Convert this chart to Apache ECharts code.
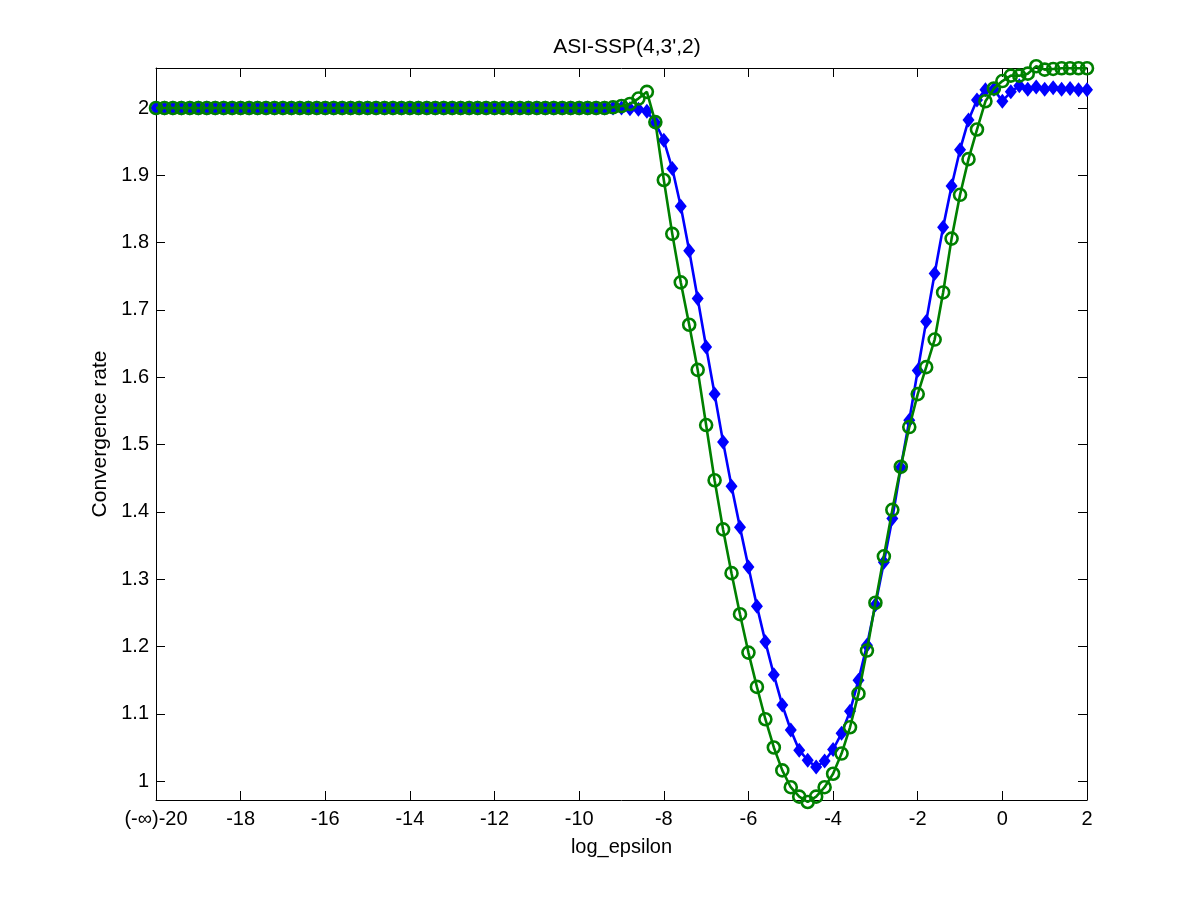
<!DOCTYPE html>
<html>
<head>
<meta charset="utf-8">
<script src="https://cdn.jsdelivr.net/npm/echarts@6/dist/echarts.min.js"></script>
<style>
html, body { margin: 0; padding: 0; background: #fff; }
#main { width: 1200px; height: 900px; }
</style>
</head>
<body>
<div id="main"></div>
<script>
// log_epsilon sample points (step 0.2)
var xs = [
  -20, -19.8, -19.6, -19.4, -19.2, -19, -18.8, -18.6, -18.4, -18.2,
  -18, -17.8, -17.6, -17.4, -17.2, -17, -16.8, -16.6, -16.4, -16.2,
  -16, -15.8, -15.6, -15.4, -15.2, -15, -14.8, -14.6, -14.4, -14.2,
  -14, -13.8, -13.6, -13.4, -13.2, -13, -12.8, -12.6, -12.4, -12.2,
  -12, -11.8, -11.6, -11.4, -11.2, -11, -10.8, -10.6, -10.4, -10.2,
  -10, -9.8, -9.6, -9.4, -9.2, -9, -8.8, -8.6, -8.4, -8.2,
  -8, -7.8, -7.6, -7.4, -7.2, -7, -6.8, -6.6, -6.4, -6.2,
  -6, -5.8, -5.6, -5.4, -5.2, -5, -4.8, -4.6, -4.4, -4.2,
  -4, -3.8, -3.6, -3.4, -3.2, -3, -2.8, -2.6, -2.4, -2.2,
  -2, -1.8, -1.6, -1.4, -1.2, -1, -0.8, -0.6, -0.4, -0.2,
  0, 0.2, 0.4, 0.6, 0.8, 1, 1.2, 1.4, 1.6, 1.8, 2
];

// blue diamonds
var blueRate = [
  2, 2, 2, 2, 2, 2, 2, 2, 2, 2,
  2, 2, 2, 2, 2, 2, 2, 2, 2, 2,
  2, 2, 2, 2, 2, 2, 2, 2, 2, 2,
  2, 2, 2, 2, 2, 2, 2, 2, 2, 2,
  2, 2, 2, 2, 2, 2, 2, 2, 2, 2,
  2, 2, 2, 2, 2.000, 2.000, 1.999, 1.998, 1.995, 1.978,
  1.952, 1.910, 1.854, 1.788, 1.717, 1.645, 1.575, 1.504, 1.438, 1.377,
  1.318, 1.260, 1.207, 1.158, 1.113, 1.076, 1.046, 1.031, 1.021, 1.030,
  1.047, 1.071, 1.104, 1.150, 1.202, 1.262, 1.325, 1.390, 1.466, 1.536,
  1.610, 1.683, 1.754, 1.823, 1.884, 1.938, 1.982, 2.012, 2.027, 2.028,
  2.010, 2.024, 2.033, 2.028, 2.031, 2.028, 2.030, 2.028, 2.029, 2.027, 2.027
];

// green circles
var greenRate = [
  2, 2, 2, 2, 2, 2, 2, 2, 2, 2,
  2, 2, 2, 2, 2, 2, 2, 2, 2, 2,
  2, 2, 2, 2, 2, 2, 2, 2, 2, 2,
  2, 2, 2, 2, 2, 2, 2, 2, 2, 2,
  2, 2, 2, 2, 2, 2, 2, 2, 2, 2,
  2, 2, 2, 2, 2.001, 2.003, 2.006, 2.014, 2.024, 1.979,
  1.893, 1.813, 1.741, 1.678, 1.611, 1.529, 1.447, 1.374, 1.309, 1.248,
  1.191, 1.140, 1.092, 1.050, 1.016, 0.991, 0.977, 0.969, 0.977, 0.991,
  1.011, 1.041, 1.080, 1.130, 1.194, 1.265, 1.334, 1.403, 1.467, 1.526,
  1.575, 1.615, 1.656, 1.726, 1.806, 1.871, 1.924, 1.968, 2.010, 2.029,
  2.040, 2.048, 2.048, 2.051, 2.062, 2.057, 2.058, 2.059, 2.059, 2.059, 2.059
];

var yTicks = [1, 1.1, 1.2, 1.3, 1.4, 1.5, 1.6, 1.7, 1.8, 1.9, 2];

function pairs(ys) {
    var out = [];
    for (var i = 0; i < xs.length; i++) out.push([xs[i], ys[i]]);
    return out;
}

var myChart = echarts.init(document.getElementById('main'));
var font = 'Liberation Sans, Arial, Helvetica, sans-serif';
var tick = {show: true, inside: true, length: 9, lineStyle: {color: '#000', width: 1}};

var option = {
    animation: false,
    backgroundColor: '#fff',
    title: {
        text: "ASI-SSP(4,3',2)",
        left: 622, top: 32, textAlign: 'center',
        textStyle: {fontFamily: font, fontSize: 21, fontWeight: 'normal', color: '#000'}
    },
    grid: {left: 156, right: 113, top: 68, bottom: 100},
    xAxis: [{
        type: 'value', min: -20, max: 2, interval: 2,
        name: 'log_epsilon', nameLocation: 'middle', nameGap: 37,
        nameTextStyle: {fontFamily: font, fontSize: 20, color: '#000'},
        axisLine: {onZero: false, lineStyle: {color: '#000', width: 1}},
        axisTick: tick,
        splitLine: {show: false},
        axisLabel: {
            fontFamily: font, fontSize: 20, color: '#000', margin: 9,
            formatter: function (v) { return v === -20 ? '(-\u221e)-20' : String(v); }
        }
    }, {
        type: 'value', min: -20, max: 2, interval: 2, position: 'top',
        axisLine: {onZero: false, lineStyle: {color: '#000', width: 1}},
        axisTick: tick, axisLabel: {show: false}, splitLine: {show: false}
    }],
    yAxis: [{
        type: 'value', min: 0.972, max: 2.0594,
        name: 'Convergence rate', nameLocation: 'middle', nameGap: 45,
        nameTextStyle: {fontFamily: font, fontSize: 21, color: '#000'},
        axisLine: {show: true, onZero: false, lineStyle: {color: '#000', width: 1}},
        axisTick: {show: true, inside: true, length: 9, customValues: yTicks, lineStyle: {color: '#000'}},
        axisLabel: {fontFamily: font, fontSize: 20, color: '#000', margin: 7, customValues: yTicks,
            formatter: function (v) { return String(Math.round(v * 10) / 10); }},
        splitLine: {show: false}
    }, {
        type: 'value', min: 0.972, max: 2.0594, position: 'right',
        axisLine: {show: true, onZero: false, lineStyle: {color: '#000', width: 1}},
        axisTick: {show: true, inside: true, length: 9, customValues: yTicks, lineStyle: {color: '#000'}},
        axisLabel: {show: false}, splitLine: {show: false}
    }],
    series: [{
        type: 'line', name: 'blue',
        data: pairs(blueRate),
        clip: false, showAllSymbol: true,
        symbol: 'diamond', symbolSize: [12, 15],
        lineStyle: {color: '#0000ff', width: 2.6},
        itemStyle: {color: '#0000ff'},
        z: 2
    }, {
        type: 'line', name: 'green',
        data: pairs(greenRate),
        clip: false, showAllSymbol: true,
        symbol: 'circle', symbolSize: 12,
        lineStyle: {color: '#008000', width: 2.6},
        itemStyle: {color: 'rgba(0,0,0,0)', borderColor: '#008000', borderWidth: 2.6},
        z: 3
    }]
};

myChart.setOption(option);
</script>
</body>
</html>
